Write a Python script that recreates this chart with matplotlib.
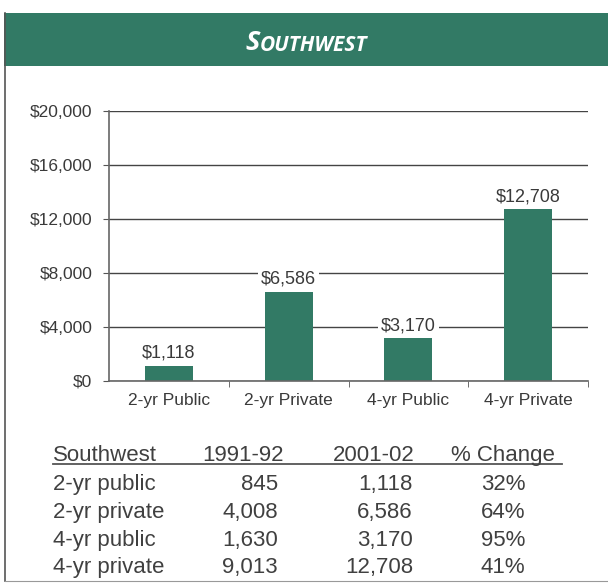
import matplotlib.pyplot as plt
from matplotlib.lines import Line2D
from matplotlib.patches import Rectangle
from matplotlib.text import Annotation

categories = ['2-yr Public', '2-yr Private', '4-yr Public', '4-yr Private']
values_2001 = [1118, 6586, 3170, 12708]

table_title = 'Southwest'
table_cols = ['1991-92', '2001-02', '% Change']
row_names = ['2-yr public', '2-yr private', '4-yr public', '4-yr private']
col_1991 = ['845', '4,008', '1,630', '9,013']
col_2001 = ['1,118', '6,586', '3,170', '12,708']
col_change = ['32%', '64%', '95%', '41%']

green = '#327a65'
plt.rcParams['font.family'] = ['Liberation Sans', 'DejaVu Sans']

W, H = 608, 583
fig = plt.figure(figsize=(W / 100, H / 100), dpi=100)


def fx(px):
    return px / W


def fy(py):
    return 1 - py / H


# frame and header band
fig.patches.append(Rectangle((fx(4), fy(66)), fx(610) - fx(4), fy(13) - fy(66),
                             transform=fig.transFigure, facecolor=green,
                             edgecolor='none'))
fig.lines.append(Line2D([fx(4.5), fx(4.5)], [fy(13), fy(581)], color='#555555', lw=1.2,
                        transform=fig.transFigure))
fig.lines.append(Line2D([fx(4.5), fx(608)], [fy(581), fy(581)], color='#999999', lw=0.8,
                        transform=fig.transFigure))

# small caps title
t1 = fig.text(fx(245), fy(50), 'S', color='white', fontsize=19.5,
              family='Open Sans', weight='bold', style='italic', va='baseline')
t2 = Annotation('OUTHWEST', xy=(1, 0), xycoords=t1, va='bottom', ha='left',
                color='white', fontsize=15, family='Open Sans',
                weight='bold', style='italic', annotation_clip=False)
fig.add_artist(t2)

# bar chart
ax = fig.add_axes([fx(109), fy(381), fx(588) - fx(109), fy(111) - fy(381)])
x = list(range(len(categories)))
ax.bar(x, values_2001, width=0.4, color=green, zorder=3)
ax.set_xlim(-0.5, 3.5)
ax.set_ylim(0, 20000)
ax.set_yticks(range(0, 20001, 4000))
ax.set_yticklabels(['${:,}'.format(v) for v in range(0, 20001, 4000)], fontsize=12.5,
                   color='#3a3a3a')
ax.yaxis.grid(True, color='#444444', lw=1, zorder=1)
ax.set_xticks(x)
ax.set_xticklabels(categories, fontsize=12.5, color='#3a3a3a')
ax.tick_params(axis='x', length=0, pad=9)
ax.tick_params(axis='y', length=4, color='#555555', pad=8)
ax.set_xticks([0.5, 1.5, 2.5, 3.5], minor=True)
ax.tick_params(axis='x', which='minor', length=4, color='#555555')
for s in ['top', 'right']:
    ax.spines[s].set_visible(False)
for s in ['left', 'bottom']:
    ax.spines[s].set_color('#666666')
    ax.spines[s].set_linewidth(1.2)
    ax.spines[s].set_zorder(4)
ax.set_axisbelow(True)

for xi, v in zip(x, values_2001):
    ax.annotate('${:,}'.format(v), xy=(xi, v), xytext=(0, 3),
                textcoords='offset points', ha='center', va='bottom',
                fontsize=13, color='#3a3a3a', zorder=5,
                bbox=dict(facecolor='white', edgecolor='none', pad=2))

# data table below
tc = '#404040'
fs = 16
fig.text(fx(53), fy(461), table_title, fontsize=fs, color=tc, va='baseline', ha='left')
fig.text(fx(243), fy(461), table_cols[0], fontsize=fs, color=tc, va='baseline', ha='center')
fig.text(fx(374), fy(461), table_cols[1], fontsize=fs, color=tc, va='baseline', ha='center')
fig.text(fx(503), fy(461), table_cols[2], fontsize=fs, color=tc, va='baseline', ha='center')
fig.lines.append(Line2D([fx(53), fx(562)], [fy(463.5), fy(463.5)], color='#555555', lw=1.3,
                        transform=fig.transFigure))

row_y = [490, 518, 546, 573]
for i, ry in enumerate(row_y):
    fig.text(fx(53), fy(ry), row_names[i], fontsize=fs, color=tc, va='baseline', ha='left')
    fig.text(fx(278), fy(ry), col_1991[i], fontsize=fs, color=tc, va='baseline', ha='right')
    fig.text(fx(413), fy(ry), col_2001[i], fontsize=fs, color=tc, va='baseline', ha='right')
    fig.text(fx(503), fy(ry), col_change[i], fontsize=fs, color=tc, va='baseline', ha='center')

fig.savefig('out.png', dpi=100)
